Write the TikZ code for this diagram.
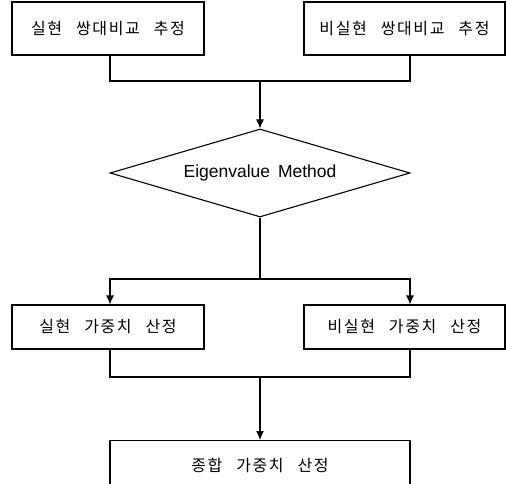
\documentclass[tikz,border=0pt]{standalone}
\usepackage{fontspec}
\setmainfont{Liberation Sans}
\newfontfamily\kr[LetterSpace=10,WordSpace=2.7]{Noto Sans CJK KR}
\usetikzlibrary{shapes.geometric,arrows.meta}
\begin{document}
\begin{tikzpicture}[x=1pt,y=-1pt,
  box/.style={draw,line width=1.1pt,rectangle,inner sep=0pt,font=\kr\fontsize{16}{18}\selectfont},
  decision/.style={draw,line width=1.1pt,diamond,aspect=3.4,inner sep=0pt,
    minimum width=300,minimum height=88,font=\fontsize{17.5}{20}\selectfont},
  link/.style={line width=1.1pt},
  arr/.style={link,-{Latex[length=9pt,width=8pt]}}]
  \useasboundingbox (0,0) rectangle (506,484);
  \clip (0,0) rectangle (506,484);
  % inputs: pairwise comparison estimates
  \node[box,minimum width=192,minimum height=53] (t1) at (108,28.5) {실현 쌍대비교 추정};
  \node[box,minimum width=201,minimum height=53] (t2) at (404.5,28.5) {비실현 쌍대비교 추정};
  % eigenvalue step
  \node[decision] (d) at (260,173) {Eigenvalue\hspace{3pt} Method};
  % weights
  \node[box,minimum width=192,minimum height=44] (m1) at (108,327) {실현 가중치 산정};
  \node[box,minimum width=201,minimum height=44] (m2) at (404.5,327) {비실현 가중치 산정};
  % combined weight
  \node[box,minimum width=300,minimum height=70,anchor=north] (b) at (260,440) {};
  \node[font=\kr\fontsize{16}{18}\selectfont] (bt) at (260,465) {종합 가중치 산정};
  % junction points
  \coordinate (j1) at (260,81);
  \coordinate (j2) at (260,279);
  \coordinate (j3) at (260,377);
  % connectors
  \draw[link] ([xshift=2]t1.south) |- (j1) -| ([xshift=5.5]t2.south);
  \draw[arr] (j1) -- (d.north);
  \draw[link] (d.south) -- (j2);
  \draw[arr] (j2) -| ([xshift=2]m1.north);
  \draw[arr] (j2) -| ([xshift=5.5]m2.north);
  \draw[link] ([xshift=2]m1.south) |- (j3) -| ([xshift=5.5]m2.south);
  \draw[arr] (j3) -- (b.north);
\end{tikzpicture}
\end{document}
